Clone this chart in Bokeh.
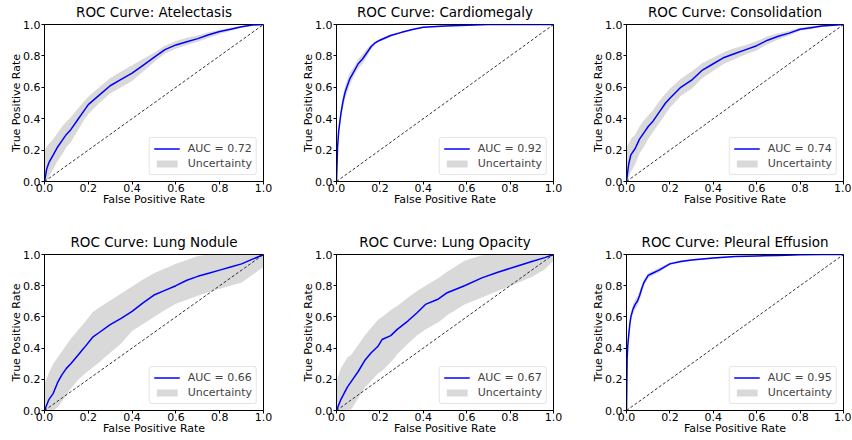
from bokeh.plotting import figure
from bokeh.layouts import column, row
from bokeh.models import Range1d, FixedTicker, PrintfTickFormatter, Legend, LegendItem
from bokeh.embed import file_html
from bokeh.resources import INLINE

# ---------------- data ----------------
conditions = ["Atelectasis", "Cardiomegaly", "Consolidation",
              "Lung Nodule", "Lung Opacity", "Pleural Effusion"]
auc_values = [0.72, 0.92, 0.74, 0.66, 0.67, 0.95]
tick_values = [0.0, 0.2, 0.4, 0.6, 0.8, 1.0]
chance_x = [0.0, 1.0]
chance_y = [0.0, 1.0]

atelectasis_fpr = [0, 0.01, 0.02, 0.04, 0.06, 0.08, 0.10, 0.12, 0.15, 0.18, 0.20, 0.25, 0.30, 0.35,
                   0.40, 0.45, 0.50, 0.55, 0.60, 0.65, 0.70, 0.75, 0.80, 0.85, 0.90, 0.95, 1.0]
atelectasis_tpr = [0, 0.08, 0.12, 0.17, 0.22, 0.26, 0.30, 0.33, 0.39, 0.45, 0.49, 0.55, 0.61, 0.65,
                   0.69, 0.74, 0.79, 0.84, 0.87, 0.89, 0.91, 0.935, 0.955, 0.97, 0.985, 0.997, 1.0]
atelectasis_hi = [0.20, 0.22, 0.24, 0.27, 0.31, 0.35, 0.38, 0.41, 0.46, 0.51, 0.54, 0.60, 0.66, 0.70,
                  0.74, 0.78, 0.82, 0.865, 0.895, 0.915, 0.93, 0.95, 0.965, 0.98, 0.99, 1.0, 1.0]
atelectasis_lo = [0, 0.0, 0.03, 0.08, 0.13, 0.17, 0.22, 0.25, 0.32, 0.39, 0.43, 0.50, 0.56, 0.60,
                  0.64, 0.70, 0.76, 0.815, 0.845, 0.87, 0.89, 0.915, 0.94, 0.96, 0.98, 0.993, 1.0]

cardiomegaly_fpr = [0, 0.005, 0.01, 0.02, 0.03, 0.04, 0.05, 0.06, 0.08, 0.10, 0.12, 0.14, 0.16,
                    0.18, 0.20, 0.25, 0.30, 0.35, 0.40, 0.50, 0.60, 0.70, 0.80, 0.90, 1.0]
cardiomegaly_tpr = [0, 0.22, 0.32, 0.43, 0.51, 0.57, 0.61, 0.65, 0.70, 0.75, 0.78, 0.82, 0.86,
                    0.885, 0.90, 0.93, 0.95, 0.968, 0.982, 0.99, 0.995, 1.0, 1.0, 1.0, 1.0]
cardiomegaly_hi = [0.05, 0.26, 0.36, 0.47, 0.55, 0.61, 0.65, 0.69, 0.73, 0.78, 0.81, 0.845, 0.875,
                   0.895, 0.91, 0.938, 0.956, 0.972, 0.985, 0.993, 0.997, 1.0, 1.0, 1.0, 1.0]
cardiomegaly_lo = [0, 0.18, 0.28, 0.39, 0.47, 0.53, 0.57, 0.61, 0.67, 0.72, 0.75, 0.795, 0.845,
                   0.875, 0.89, 0.922, 0.944, 0.964, 0.979, 0.987, 0.993, 1.0, 1.0, 1.0, 1.0]

consolidation_fpr = [0, 0.01, 0.02, 0.04, 0.06, 0.08, 0.10, 0.12, 0.15, 0.18, 0.20, 0.25, 0.30, 0.35,
                     0.40, 0.45, 0.50, 0.55, 0.60, 0.65, 0.70, 0.75, 0.80, 0.85, 0.90, 0.95, 1.0]
consolidation_tpr = [0, 0.11, 0.17, 0.21, 0.27, 0.31, 0.35, 0.38, 0.44, 0.50, 0.53, 0.60, 0.645, 0.71,
                     0.75, 0.79, 0.815, 0.84, 0.865, 0.90, 0.925, 0.945, 0.97, 0.98, 0.99, 0.995, 1.0]
consolidation_hi = [0.22, 0.24, 0.27, 0.30, 0.35, 0.39, 0.42, 0.45, 0.51, 0.56, 0.59, 0.655, 0.70, 0.755,
                    0.79, 0.825, 0.85, 0.87, 0.895, 0.925, 0.945, 0.96, 0.98, 0.99, 0.995, 1.0, 1.0]
consolidation_lo = [0, 0.02, 0.06, 0.11, 0.18, 0.22, 0.27, 0.31, 0.37, 0.43, 0.47, 0.545, 0.59, 0.66,
                    0.705, 0.75, 0.78, 0.81, 0.835, 0.875, 0.905, 0.93, 0.96, 0.97, 0.985, 0.99, 1.0]

nodule_fpr = [0, 0.02, 0.04, 0.06, 0.08, 0.10, 0.12, 0.15, 0.18, 0.22, 0.25, 0.30, 0.35, 0.40,
              0.45, 0.50, 0.55, 0.60, 0.65, 0.70, 0.75, 0.80, 0.85, 0.90, 0.95, 1.0]
nodule_tpr = [0, 0.07, 0.11, 0.18, 0.23, 0.27, 0.30, 0.35, 0.40, 0.47, 0.50, 0.55, 0.59, 0.635,
              0.69, 0.74, 0.77, 0.80, 0.835, 0.86, 0.88, 0.90, 0.92, 0.94, 0.97, 1.0]
nodule_hi = [0.17, 0.24, 0.30, 0.34, 0.38, 0.42, 0.46, 0.51, 0.56, 0.63, 0.66, 0.705, 0.75, 0.795,
             0.84, 0.88, 0.91, 0.94, 0.965, 0.99, 1.0, 1.0, 1.0, 1.0, 1.0, 1.0]
nodule_lo = [0, 0, 0, 0.02, 0.06, 0.10, 0.14, 0.19, 0.23, 0.275, 0.31, 0.37, 0.43, 0.51,
             0.555, 0.60, 0.645, 0.685, 0.71, 0.735, 0.76, 0.78, 0.80, 0.82, 0.87, 0.92]

opacity_fpr = [0, 0.02, 0.05, 0.07, 0.10, 0.13, 0.16, 0.19, 0.21, 0.25, 0.28, 0.33, 0.37, 0.41,
               0.47, 0.51, 0.59, 0.67, 0.74, 0.82, 0.90, 0.96, 1.0]
opacity_tpr = [0, 0.07, 0.15, 0.19, 0.25, 0.32, 0.37, 0.41, 0.455, 0.48, 0.52, 0.575, 0.625, 0.68,
               0.715, 0.755, 0.80, 0.85, 0.885, 0.92, 0.955, 0.98, 1.0]
opacity_hi = [0.19, 0.27, 0.34, 0.36, 0.42, 0.48, 0.53, 0.58, 0.60, 0.645, 0.67, 0.725, 0.765, 0.80,
              0.85, 0.89, 0.96, 0.995, 1.0, 1.0, 1.0, 1.0, 1.0]
opacity_lo = [0, 0, 0, 0.01, 0.08, 0.146, 0.19, 0.235, 0.255, 0.31, 0.36, 0.43, 0.48, 0.52,
              0.565, 0.61, 0.68, 0.725, 0.765, 0.81, 0.855, 0.905, 0.96]

effusion_fpr = [0, 0.003, 0.006, 0.01, 0.015, 0.02, 0.03, 0.04, 0.05, 0.06, 0.07, 0.08, 0.10,
                0.12, 0.15, 0.20, 0.25, 0.30, 0.40, 0.50, 0.60, 0.70, 0.80, 0.90, 1.0]
effusion_tpr = [0, 0.33, 0.42, 0.48, 0.55, 0.60, 0.65, 0.68, 0.70, 0.735, 0.78, 0.82, 0.866,
                0.88, 0.90, 0.94, 0.955, 0.965, 0.977, 0.987, 0.991, 0.994, 0.998, 1.0, 1.0]
effusion_hi = [0.02, 0.36, 0.45, 0.51, 0.58, 0.63, 0.68, 0.71, 0.73, 0.765, 0.805, 0.84, 0.88,
               0.895, 0.915, 0.948, 0.963, 0.97, 0.982, 0.99, 0.994, 0.996, 0.999, 1.0, 1.0]
effusion_lo = [0, 0.30, 0.39, 0.45, 0.52, 0.57, 0.62, 0.65, 0.67, 0.705, 0.75, 0.795, 0.85,
               0.865, 0.885, 0.932, 0.947, 0.96, 0.972, 0.984, 0.988, 0.992, 0.997, 1.0, 1.0]

curves = [
    (atelectasis_fpr, atelectasis_tpr, atelectasis_lo, atelectasis_hi),
    (cardiomegaly_fpr, cardiomegaly_tpr, cardiomegaly_lo, cardiomegaly_hi),
    (consolidation_fpr, consolidation_tpr, consolidation_lo, consolidation_hi),
    (nodule_fpr, nodule_tpr, nodule_lo, nodule_hi),
    (opacity_fpr, opacity_tpr, opacity_lo, opacity_hi),
    (effusion_fpr, effusion_tpr, effusion_lo, effusion_hi),
]

# ---------------- layout ----------------
FONT = "DejaVu Sans"
col_geom = [(44, 219, 36), (36, 218, 36), (36, 218, 8)]   # left border, frame width, right border
row_geom = [(24, 157, 49), (24, 156, 30)]                 # top border, frame height, bottom border


def style_axis(ax, label_standoff, title_standoff):
    ax.ticker = FixedTicker(ticks=tick_values)
    ax.formatter = PrintfTickFormatter(format="%.1f")
    ax.major_label_text_font = FONT
    ax.major_label_text_font_size = "11px"
    ax.major_label_text_color = "black"
    ax.major_label_standoff = label_standoff
    ax.major_tick_out = 3
    ax.major_tick_in = 0
    ax.minor_tick_out = 0
    ax.minor_tick_in = 0
    ax.axis_line_color = "black"
    ax.major_tick_line_color = "black"
    ax.axis_label_text_font = FONT
    ax.axis_label_text_font_size = "11px"
    ax.axis_label_text_font_style = "normal"
    ax.axis_label_text_color = "black"
    ax.axis_label_standoff = title_standoff


def make_panel(idx):
    name = conditions[idx]
    fpr, tpr, lo, hi = curves[idx]
    left, fw, right = col_geom[idx % 3]
    top, fh, bottom = row_geom[idx // 3]
    p = figure(width=left + fw + right, height=top + fh + bottom,
               output_backend="svg", toolbar_location=None,
               x_range=Range1d(0, 1), y_range=Range1d(0, 1),
               min_border_left=left, min_border_right=right,
               min_border_top=top, min_border_bottom=bottom,
               title="ROC Curve: " + name)
    p.title.text_font = FONT
    p.title.text_font_size = "13.5px"
    p.title.text_font_style = "normal"
    p.title.align = "center"
    p.title.vertical_align = "top"
    p.title.standoff = 6
    p.title.text_color = "black"

    p.grid.visible = False
    p.outline_line_color = "black"
    p.outline_line_width = 1
    p.background_fill_color = "white"
    p.border_fill_color = "white"

    style_axis(p.xaxis[0], -1, -2)
    style_axis(p.yaxis[0], 1, -3)
    p.xaxis.axis_label = "False Positive Rate"
    p.yaxis.axis_label = "True Positive Rate"

    band = p.varea(x=fpr, y1=lo, y2=hi, fill_color="gray", fill_alpha=0.3)
    line = p.line(x=fpr, y=tpr, line_color="blue", line_width=1.5)
    p.line(x=chance_x, y=chance_y, line_color="black", line_width=0.8, line_dash="3 2")

    legend = Legend(items=[
        LegendItem(label="AUC = %.2f" % auc_values[idx], renderers=[line]),
        LegendItem(label="Uncertainty", renderers=[band]),
    ], location="bottom_right")
    legend.label_text_font = FONT
    legend.label_text_font_size = "11px"
    legend.label_height = 13
    legend.glyph_height = 9
    legend.glyph_width = 26
    legend.label_standoff = 8
    legend.spacing = 2
    legend.padding = 4
    legend.margin = 6
    legend.border_line_color = "#cccccc"
    legend.border_line_width = 1
    legend.background_fill_color = "white"
    legend.background_fill_alpha = 0.8
    try:
        legend.border_radius = 3
    except Exception:
        pass
    p.add_layout(legend, "center")
    return p


panels = [make_panel(i) for i in range(6)]
layout = column(row(*panels[:3]), row(*panels[3:]))

open("out.html", "w").write(file_html(layout, INLINE))
